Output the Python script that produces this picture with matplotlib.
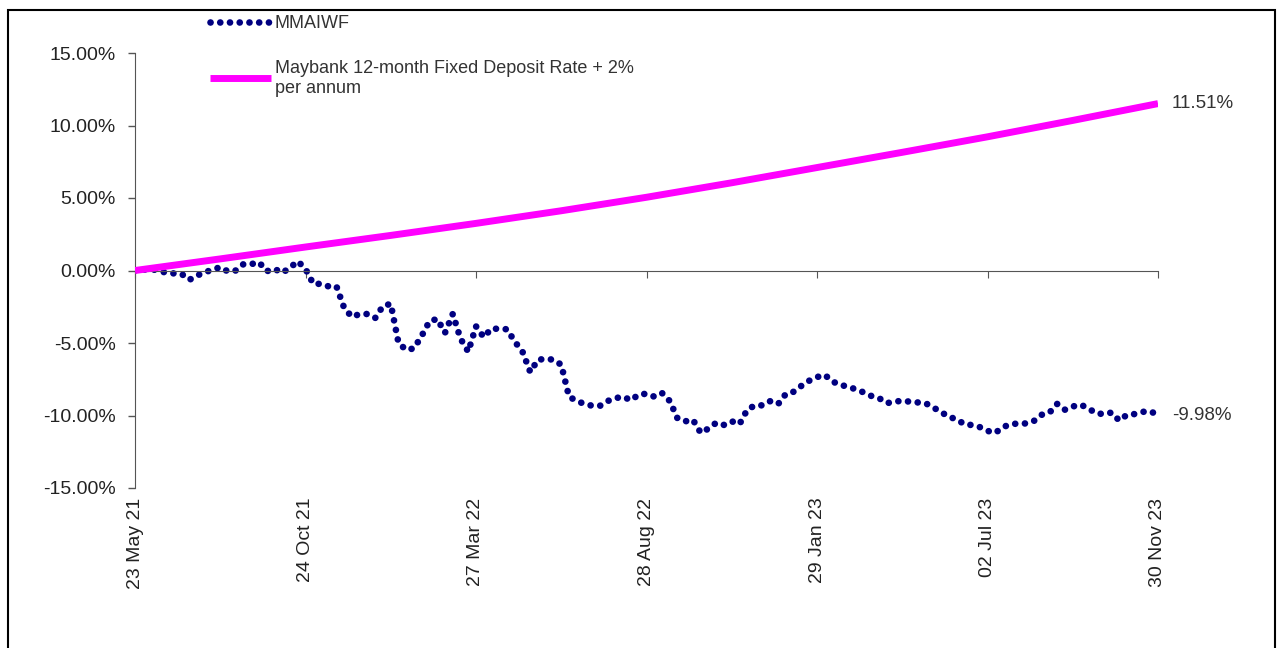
import numpy as np
import matplotlib
matplotlib.use('Agg')
import matplotlib.pyplot as plt
from matplotlib.ticker import FuncFormatter
from matplotlib.patches import Rectangle

plt.rcParams['font.family'] = ['Liberation Sans', 'DejaVu Sans']

# weekly cumulative return of the fund (%), 23 May 21 .. 30 Nov 23
mmaiwf = [0.0, 0.05, 0.1, 0.0, -0.15, -0.2, -0.23, -0.65, -0.35, -0.12,
          0.05, 0.23, -0.07, 0.0, 0.44, 0.44, 0.57, -0.05, 0.11, -0.16,
          0.19, 0.64, 0.11, -0.92, -0.92, -1.1, -1.1, -2.6, -3.2, -3.0,
          -3.0, -3.27, -2.45, -2.3, -5.0, -5.48, -5.37, -4.5, -3.5, -3.34,
          -4.3, -3.0, -4.7, -5.6, -3.85, -4.6, -4.0, -4.03, -4.05, -4.9,
          -5.6, -7.0, -6.15, -6.1, -6.15, -6.5, -8.7, -9.0, -9.2, -9.33,
          -9.33, -9.0, -8.8, -8.71, -8.95, -8.55, -8.5, -8.7, -8.45, -9.0,
          -10.2, -10.4, -10.3, -11.2, -10.9, -10.5, -10.65, -10.4, -10.6, -9.6,
          -9.3, -9.3, -9.0, -9.2, -8.5, -8.36, -7.95, -7.6, -7.35, -7.2,
          -7.65, -7.9, -8.0, -8.2, -8.4, -8.65, -8.8, -9.15, -9.05, -8.98,
          -9.05, -9.1, -9.15, -9.45, -9.75, -10.1, -10.25, -10.6, -10.66, -10.8,
          -11.06, -11.2, -10.8, -10.6, -10.55, -10.55, -10.37, -9.95, -9.8, -9.2,
          -9.6, -9.38, -9.25, -9.5, -9.85, -9.9, -9.8, -10.35, -9.95, -9.9,
          -9.75, -9.7, -9.98]

# benchmark read at every 11th week
bench_idx = [0, 11, 22, 33, 44, 55, 66, 77, 88, 99, 110, 121, 132]
bench = [0.0, 0.8, 1.62, 2.42, 3.25, 4.12, 5.05, 6.05, 7.1, 8.15, 9.22, 10.35, 11.51]

tick_idx = [0, 22, 44, 66, 88, 110, 132]
tick_labels = ['23 May 21', '24 Oct 21', '27 Mar 22', '28 Aug 22',
               '29 Jan 23', '02 Jul 23', '30 Nov 23']

W, H = 1281, 648
fig = plt.figure(figsize=(W / 100, H / 100), dpi=100)
ax = fig.add_axes([135 / W, 1 - 488 / H, (1158 - 135) / W, (488 - 53) / H])

x = np.arange(len(mmaiwf))
ax.plot(x, mmaiwf, color='#000080', lw=4.8, linestyle=(0, (0.01, 1.45)),
        dash_capstyle='round', label='MMAIWF', zorder=2)
ax.plot(bench_idx, bench, color='#ff00ff', lw=5, solid_capstyle='butt',
        label='Maybank 12-month Fixed Deposit Rate + 2%\nper annum', zorder=3)

ax.set_xlim(0, 132)
ax.set_ylim(-15, 15)
ax.set_yticks(np.arange(-15, 16, 5))
ax.yaxis.set_major_formatter(FuncFormatter(lambda v, p: f'{v:.2f}%'))
ax.tick_params(axis='y', length=5, width=1, color='#555555', pad=9,
               labelsize=14, labelcolor='#222222')

for s in ['top', 'right']:
    ax.spines[s].set_visible(False)
ax.spines['left'].set_color('#555555')
ax.spines['bottom'].set_position(('data', 0))
ax.spines['bottom'].set_color('#555555')
ax.set_xticks(tick_idx)
ax.tick_params(axis='x', length=5, color='#555555', labelbottom=False)

secax = ax.secondary_xaxis('bottom')
secax.spines['bottom'].set_visible(False)
secax.set_xticks(tick_idx, labels=tick_labels, rotation=90)
secax.tick_params(length=0, pad=7, labelsize=14, labelcolor='#222222')
for lab in secax.get_xticklabels():
    lab.set_va('top')

ax.annotate(f'{mmaiwf[-1]:.2f}%', (x[-1], mmaiwf[-1]), xytext=(10, 0),
            textcoords='offset points', va='center', ha='left',
            fontsize=13.5, color='#333333')
ax.annotate(f'{bench[-1]:.2f}%', (bench_idx[-1], bench[-1]), xytext=(10, 0),
            textcoords='offset points', va='center', ha='left',
            fontsize=13.5, color='#333333')

leg = ax.legend(loc='upper left', bbox_to_anchor=(210 / W, 1 - 15 / H),
                bbox_transform=fig.transFigure, frameon=False, fontsize=13,
                handlelength=3.4, handletextpad=0.2, labelspacing=1.55,
                borderpad=0, borderaxespad=0)
for t in leg.get_texts():
    t.set_color('#333333')

fig.add_artist(Rectangle((8 / W, -0.05), (1275 - 8) / W, 1 - 10 / H + 0.05,
                         transform=fig.transFigure, fill=False, lw=1.5,
                         ec='black'))

fig.savefig('out.png', dpi=100, facecolor='white')
